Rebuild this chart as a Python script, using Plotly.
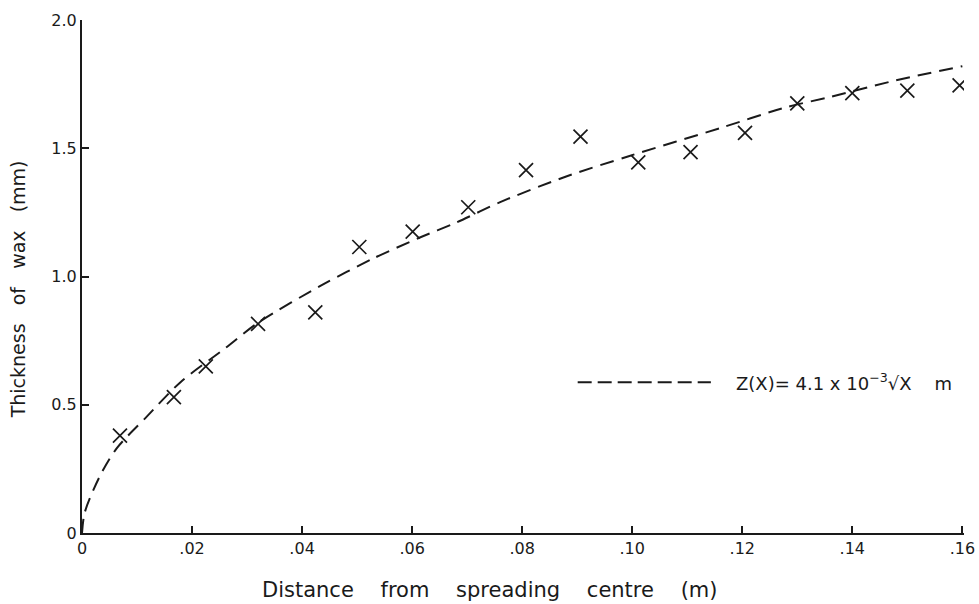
import plotly.graph_objects as go

# Measured points (distance in m, thickness in mm)
obs_x = [0.0069, 0.0167, 0.0225, 0.0320, 0.0424, 0.0504, 0.0601, 0.0702, 0.0807,
         0.0906, 0.1011, 0.1106, 0.1205, 0.1300, 0.1400, 0.1500, 0.1595]
obs_y = [0.38, 0.53, 0.65, 0.815, 0.86, 1.115, 1.175, 1.27, 1.415,
         1.545, 1.445, 1.485, 1.56, 1.675, 1.715, 1.725, 1.745]

# Fitted curve
fit_x = [0.0, 0.0005, 0.0032, 0.0063, 0.0116, 0.018, 0.026, 0.032, 0.0439, 0.0529,
         0.0612, 0.068, 0.076, 0.088, 0.0995, 0.1162, 0.128, 0.136, 0.147, 0.160]
fit_y = [0.0, 0.08, 0.22, 0.33, 0.45, 0.59, 0.72, 0.82, 0.97, 1.07,
         1.15, 1.21, 1.29, 1.39, 1.47, 1.58, 1.66, 1.70, 1.76, 1.82]

x_ticks = [0, 0.02, 0.04, 0.06, 0.08, 0.10, 0.12, 0.14, 0.16]
x_tick_text = ["0", ".02", ".04", ".06", ".08", ".10", ".12", ".14", ".16"]
y_ticks = [0, 0.5, 1.0, 1.5, 2.0]
y_tick_text = ["0", "0.5", "1.0", "1.5", "2.0"]

INK = "#1a1a1a"
FONT = "DejaVu Sans"
SP3 = "&nbsp;" * 3
SP4 = "&nbsp;" * 4

fig = go.Figure()
fig.add_trace(go.Scatter(
    x=fit_x, y=fit_y, mode="lines",
    line=dict(color=INK, width=2, dash="14px,8px", shape="spline", smoothing=0.8),
    showlegend=False, hoverinfo="skip"))
fig.add_trace(go.Scatter(
    x=obs_x, y=obs_y, mode="markers",
    marker=dict(symbol="x-thin", size=14, color=INK, line=dict(width=1.7, color=INK)),
    showlegend=False))

fig.update_layout(
    width=979, height=604,
    margin=dict(l=82, r=4, t=20, b=71),
    paper_bgcolor="white", plot_bgcolor="white",
    font=dict(family=FONT, color=INK, size=16),
    xaxis=dict(range=[0, 0.1603], tickvals=x_ticks, ticktext=x_tick_text,
               showgrid=False, zeroline=False, showline=True, linecolor=INK, linewidth=2,
               ticks="inside", ticklen=7, tickwidth=1.5, tickcolor=INK,
               ticklabeloverflow="allow",
               tickfont=dict(size=16, family=FONT, color=INK)),
    yaxis=dict(range=[0, 2.0], tickvals=y_ticks, ticktext=y_tick_text,
               showgrid=False, zeroline=False, showline=True, linecolor=INK, linewidth=2,
               ticks="inside", ticklen=7, tickwidth=1.5, tickcolor=INK,
               tickfont=dict(size=16, family=FONT, color=INK)),
    shapes=[dict(type="line", xref="paper", yref="paper",
                 x0=0.562, x1=0.713, y0=0.294, y1=0.294,
                 line=dict(color=INK, width=2, dash="14px,6px"))],
    annotations=[
        dict(text="Z(X)= 4.1 x 10<sup>−3</sup>√X&nbsp;&nbsp;&nbsp;&nbsp;m", xref="paper", yref="paper",
             x=0.739, y=0.294, xanchor="left", yanchor="middle", showarrow=False,
             font=dict(size=18, family=FONT, color=INK)),
        dict(text=SP4.join(["Distance", "from", "spreading", "centre", "(m)"]),
             xref="paper", yref="paper", x=0.462, y=0, yshift=-57,
             xanchor="center", yanchor="middle", showarrow=False,
             font=dict(size=21, family=FONT, color=INK)),
        dict(text=SP3.join(["Thickness", "of", "wax", "(mm)"]),
             xref="paper", yref="paper", x=0, xshift=-64, y=0.475,
             xanchor="center", yanchor="middle", textangle=-90, showarrow=False,
             font=dict(size=19, family=FONT, color=INK)),
    ],
)

fig.write_html("out.html")
